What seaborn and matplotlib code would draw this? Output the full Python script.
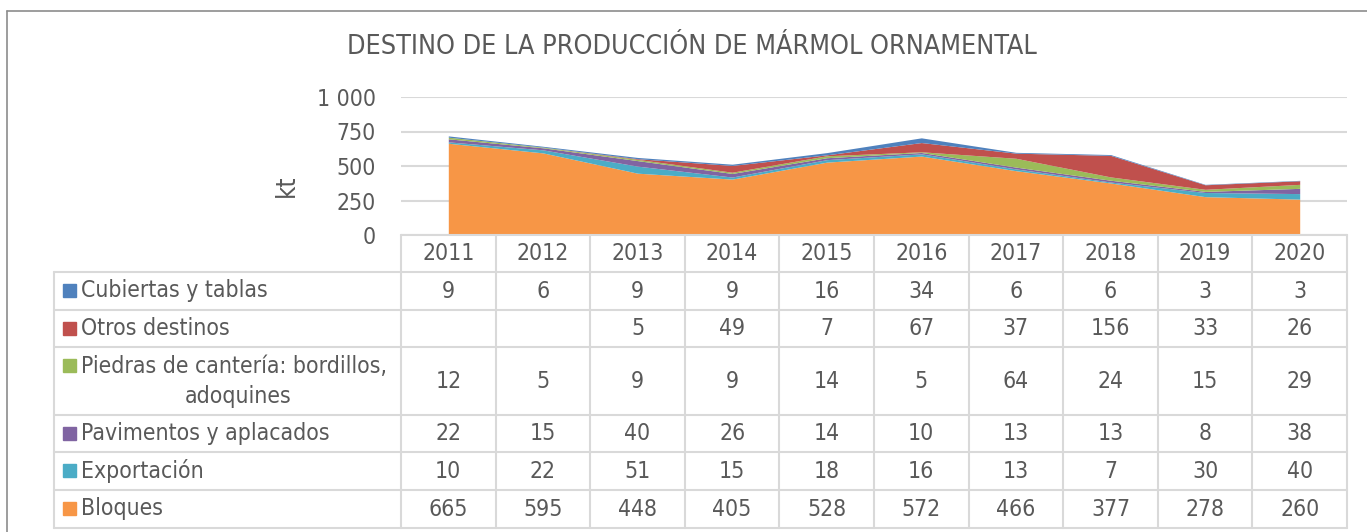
import numpy as np
import pandas as pd
import seaborn as sns
import matplotlib
matplotlib.use("Agg")
from matplotlib import pyplot as plt
from matplotlib import font_manager

years = ["2011", "2012", "2013", "2014", "2015", "2016", "2017", "2018", "2019", "2020"]
cubiertas = [9, 6, 9, 9, 16, 34, 6, 6, 3, 3]
otros = [None, None, 5, 49, 7, 67, 37, 156, 33, 26]
piedras = [12, 5, 9, 9, 14, 5, 64, 24, 15, 29]
pavimentos = [22, 15, 40, 26, 14, 10, 13, 13, 8, 38]
exportacion = [10, 22, 51, 15, 18, 16, 13, 7, 30, 40]
bloques = [665, 595, 448, 405, 528, 572, 466, 377, 278, 260]

# table order (top to bottom) and colours
series = [
    ("Cubiertas y tablas", cubiertas, "#4F81BD"),
    ("Otros destinos", otros, "#C0504D"),
    ("Piedras de cantería: bordillos,\nadoquines", piedras, "#9BBB59"),
    ("Pavimentos y aplacados", pavimentos, "#8064A2"),
    ("Exportación", exportacion, "#4BACC6"),
    ("Bloques", bloques, "#F79646"),
]

sns.set_theme(style="white")
plt.rcParams["font.family"] = ["DejaVu Sans"]
# narrow look of the original: use condensed face if there is one
has_cond = any(f.name == "DejaVu Sans" and f.stretch == "condensed"
               for f in font_manager.fontManager.ttflist)
if has_cond:
    plt.rcParams["font.stretch"] = "condensed"
    FS = 16.5
else:
    FS = 15

TXT = "#595959"
GRID = "#D9D9D9"
W, H = 1367, 532
fig = plt.figure(figsize=(W / 100, H / 100), dpi=100)

# pixel layout
px_l, px_r = 401, 1347
px_top, px_zero = 97, 235


def fx(x):
    return x / W


def fy(y):
    return 1 - y / H


ax = fig.add_axes([fx(px_l), fy(px_zero), fx(px_r - px_l), (px_zero - px_top) / H])
df = pd.DataFrame({name: vals for name, vals, _ in series}, index=years).fillna(0)
stack_order = series[::-1]
x = np.arange(len(years))
ax.stackplot(x, *[df[name].values for name, _, _ in stack_order],
             colors=[c for _, _, c in stack_order], linewidth=0)
ax.set_xlim(-0.5, len(years) - 0.5)
ax.set_ylim(0, 1000)
ax.set_yticks([0, 250, 500, 750, 1000])
ax.set_yticklabels(["0", "250", "500", "750", "1 000"])
ax.yaxis.grid(True, color=GRID, linewidth=1.5)
ax.set_axisbelow(True)
ax.set_xticks([])
ax.tick_params(axis="y", length=0, labelsize=FS, labelcolor=TXT, pad=18)
sns.despine(ax=ax, left=True, bottom=True, top=True, right=True)
ax.set_ylabel("kt", fontsize=FS + 2, color=TXT)
ax.yaxis.set_label_coords((300 - px_l) / (px_r - px_l), 0.36)

# overlay for title, table and frame, pixel coordinates
ov = fig.add_axes([0, 0, 1, 1], zorder=-1)
ov.set_xlim(0, W)
ov.set_ylim(H, 0)
ov.axis("off")

ov.plot([7, 7], [11, H], color="#8C8C8C", lw=1.2)
ov.plot([7, W], [11, 11], color="#8C8C8C", lw=1.2)
ov.text(692, 47, "DESTINO DE LA PRODUCCIÓN DE MÁRMOL ORNAMENTAL",
        ha="center", va="center", fontsize=FS * 17.5 / 15, color=TXT)

ov2 = fig.add_axes([0, 0, 1, 1], zorder=3)
ov2.set_xlim(0, W)
ov2.set_ylim(H, 0)
ov2.axis("off")
ov2.patch.set_alpha(0)

tab_l = 54
col_w = (px_r - px_l) / len(years)
row_edges = [272, 310, 347, 415, 452, 490, 528]
lw = 1.5

# year header row
ov2.plot([px_l, px_r], [px_zero, px_zero], color=GRID, lw=lw)
for i in range(len(years) + 1):
    xx = px_l + i * col_w
    ov2.plot([xx, xx], [px_zero, row_edges[-1]], color=GRID, lw=lw)
for i, yr in enumerate(years):
    ov2.text(px_l + (i + 0.5) * col_w, (px_zero + row_edges[0]) / 2, yr,
             ha="center", va="center", fontsize=FS, color=TXT)

for yy in row_edges:
    ov2.plot([tab_l, px_r], [yy, yy], color=GRID, lw=lw)
ov2.plot([tab_l, tab_l], [row_edges[0], row_edges[-1]], color=GRID, lw=lw)

for r, (name, vals, col) in enumerate(series):
    y0, y1 = row_edges[r], row_edges[r + 1]
    yc = (y0 + y1) / 2
    lines = name.split("\n")
    if len(lines) == 1:
        ov2.add_patch(plt.Rectangle((63, yc - 7), 13, 13, color=col))
        ov2.text(81, yc, lines[0], ha="left", va="center", fontsize=FS, color=TXT)
    else:
        ov2.add_patch(plt.Rectangle((63, y0 + 12), 13, 13, color=col))
        ov2.text(81, y0 + 19, lines[0], ha="left", va="center", fontsize=FS, color=TXT)
        ov2.text(238, y0 + 49, lines[1], ha="center", va="center", fontsize=FS, color=TXT)
    for i, v in enumerate(vals):
        if v is None:
            continue
        ov2.text(px_l + (i + 0.5) * col_w, yc, str(v),
                 ha="center", va="center", fontsize=FS, color=TXT)

fig.savefig("out.png", dpi=100)
